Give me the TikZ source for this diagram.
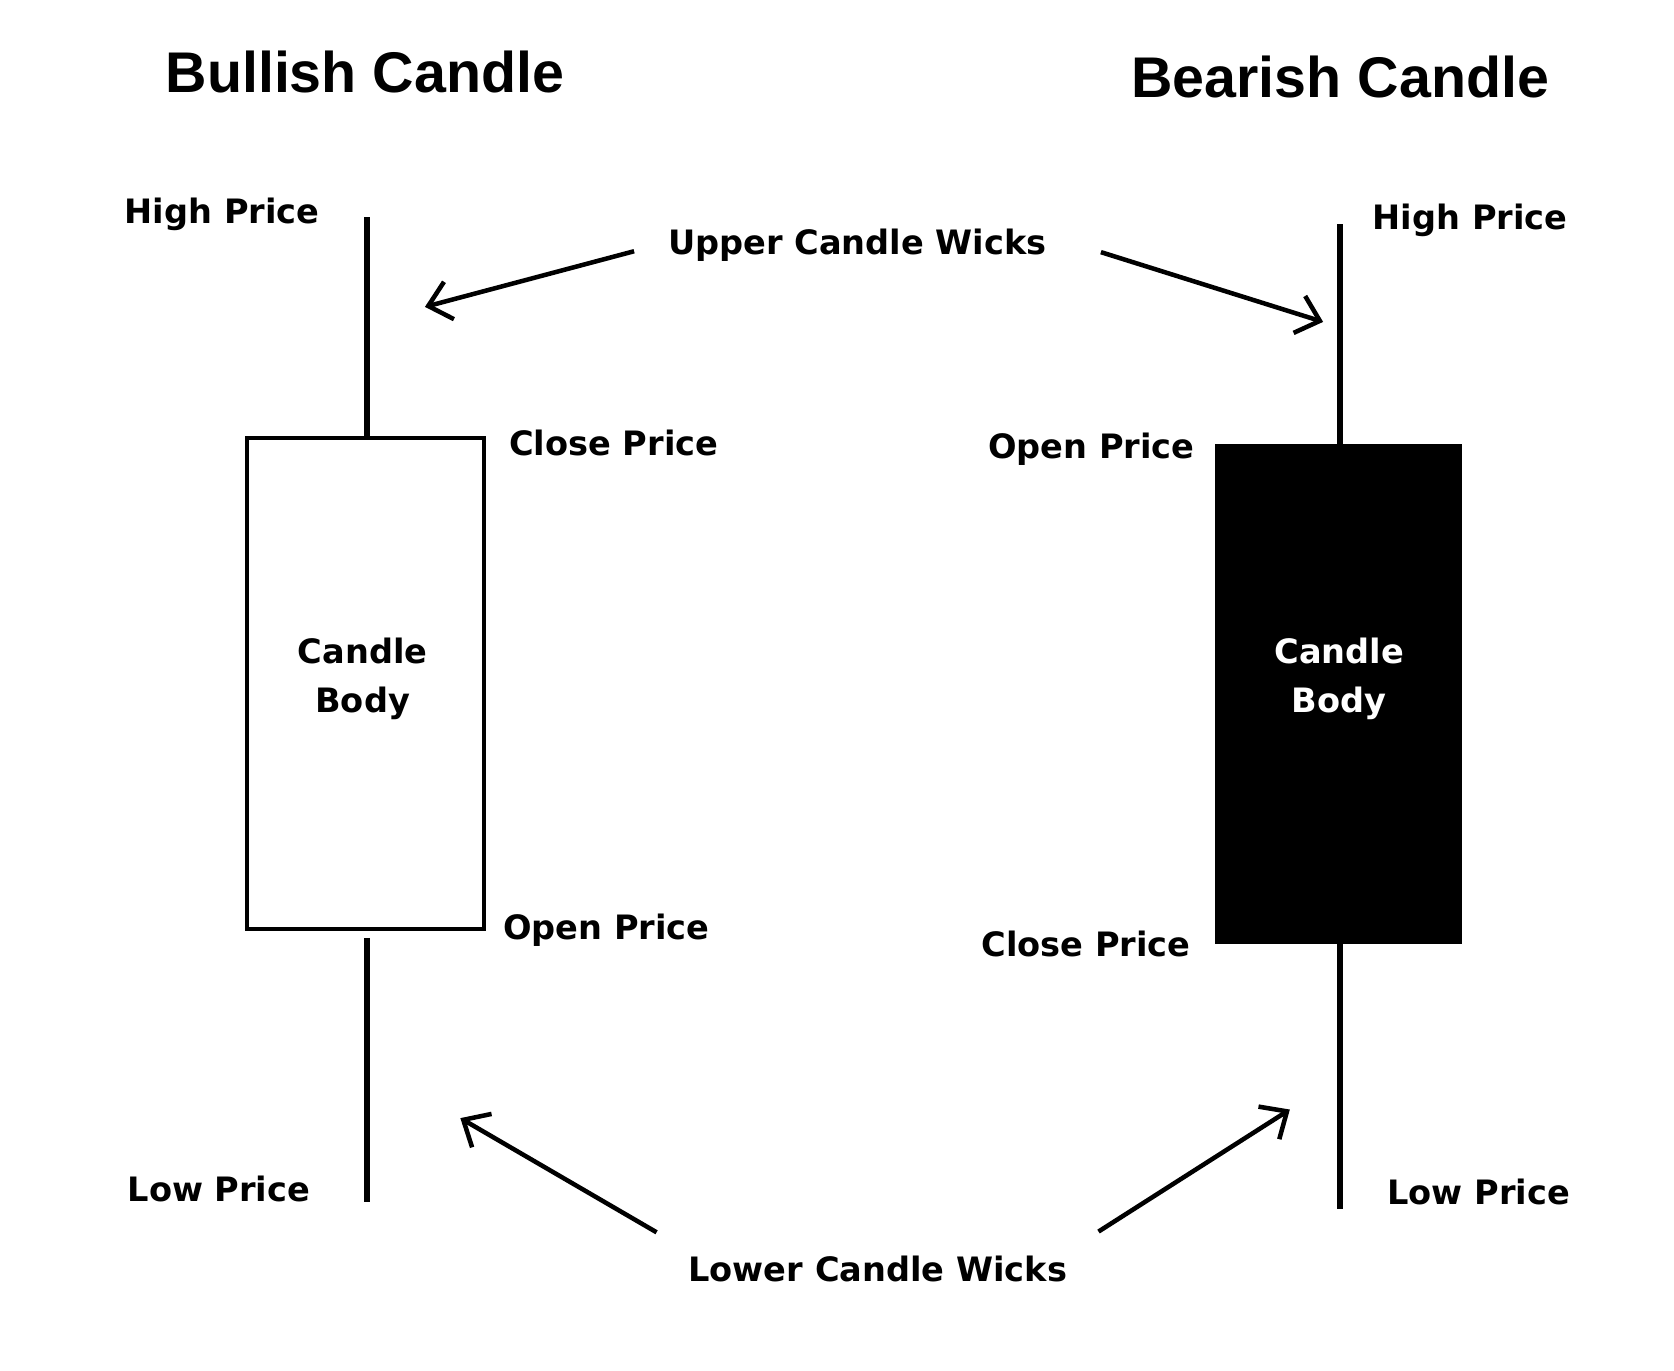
\documentclass[tikz,border=0pt]{standalone}
\usepackage{fontspec}
\setmainfont{DejaVu Sans}
\newfontfamily\titlefont{Liberation Sans}
\usepackage{tikz}
\usetikzlibrary{arrows.meta}
\usetikzlibrary{positioning}
\tikzset{lbl/.style = {font = \bfseries\fontsize{8.9}{13}\selectfont}}
\tikzset{ttl/.style = {font = \titlefont\bfseries\fontsize{15.2}{18}\selectfont}}
\tikzset{body/.style = {draw, line width = 1.1pt, inner sep = 0}}
\tikzset{bodytext/.style = {lbl, align = center}}
\tikzset{wick/.style = {line width = 1.7pt}}
\tikzset{arr/.style = {-{Straight Barb[length = 2mm, width = 3.6mm]}, line width = 1.2pt}}
\begin{document}
\begin{tikzpicture}[x=0.01cm, y=-0.01cm]
    \useasboundingbox (0, 0) rectangle (1560, 1277);

    \node [ttl] (bulltitle) at (340, 67) {Bullish Candle};
    \node [ttl] (beartitle) at (1249, 72) {Bearish Candle};

    % bullish candle
    \node [body, minimum width = 2.21cm, minimum height = 4.58cm] (bull) at (340.5, 637) {};
    \node [bodytext] (bulltext) at (338, 633) {Candle\\Body};
    \coordinate (bullhigh) at (342, 202);
    \coordinate (bulllow) at (342, 1120);
    \draw [wick] (bull.north -| bullhigh) -- (bullhigh);
    \draw [wick] (bull.south -| bulllow) ++(0, 6) -- (bulllow);
    \node [lbl] (bullhighlbl) at (207, 200) {High Price};
    \node [lbl] (bullclose) at (572, 413) {Close Price};
    \node [lbl] (bullopen) at (565, 867) {Open Price};
    \node [lbl] (bulllowlbl) at (204, 1108) {Low Price};

    % bearish candle
    \node [body, fill = black, minimum width = 2.26cm, minimum height = 4.62cm] (bear) at (1247, 647) {};
    \node [bodytext, text = white] (beartext) at (1248, 633) {Candle\\Body};
    \coordinate (bearhigh) at (1249, 209);
    \coordinate (bearlow) at (1249, 1127);
    \draw [wick] (bear.north -| bearhigh) -- (bearhigh);
    \draw [wick] (bear.south -| bearlow) -- (bearlow);
    \node [lbl] (bearhighlbl) at (1370, 205) {High Price};
    \node [lbl] (bearopen) at (1017, 419) {Open Price};
    \node [lbl] (bearclose) at (1012, 880) {Close Price};
    \node [lbl] (bearlowlbl) at (1378, 1111) {Low Price};

    % wick labels
    \node [lbl] (upper) at (799, 229) {Upper Candle Wicks};
    \node [lbl] (lower) at (818, 1183) {Lower Candle Wicks};
    \coordinate (uptipl) at (396, 286);
    \coordinate (uptipr) at (1233, 300);
    \coordinate (lowtipl) at (429, 1042);
    \coordinate (lowtipr) at (1202, 1034);
    \draw [arr, shorten <= 0.2cm] (upper.west) -- (uptipl);
    \draw [arr, shorten <= 0.4cm] ([yshift = 0.06cm]upper.east) -- (uptipr);
    \draw [arr, shorten <= 0.2cm] (lower.north west) -- (lowtipl);
    \draw [arr, shorten <= 0.2cm] (lower.north east) -- (lowtipr);
  \end{tikzpicture}
\end{document}
